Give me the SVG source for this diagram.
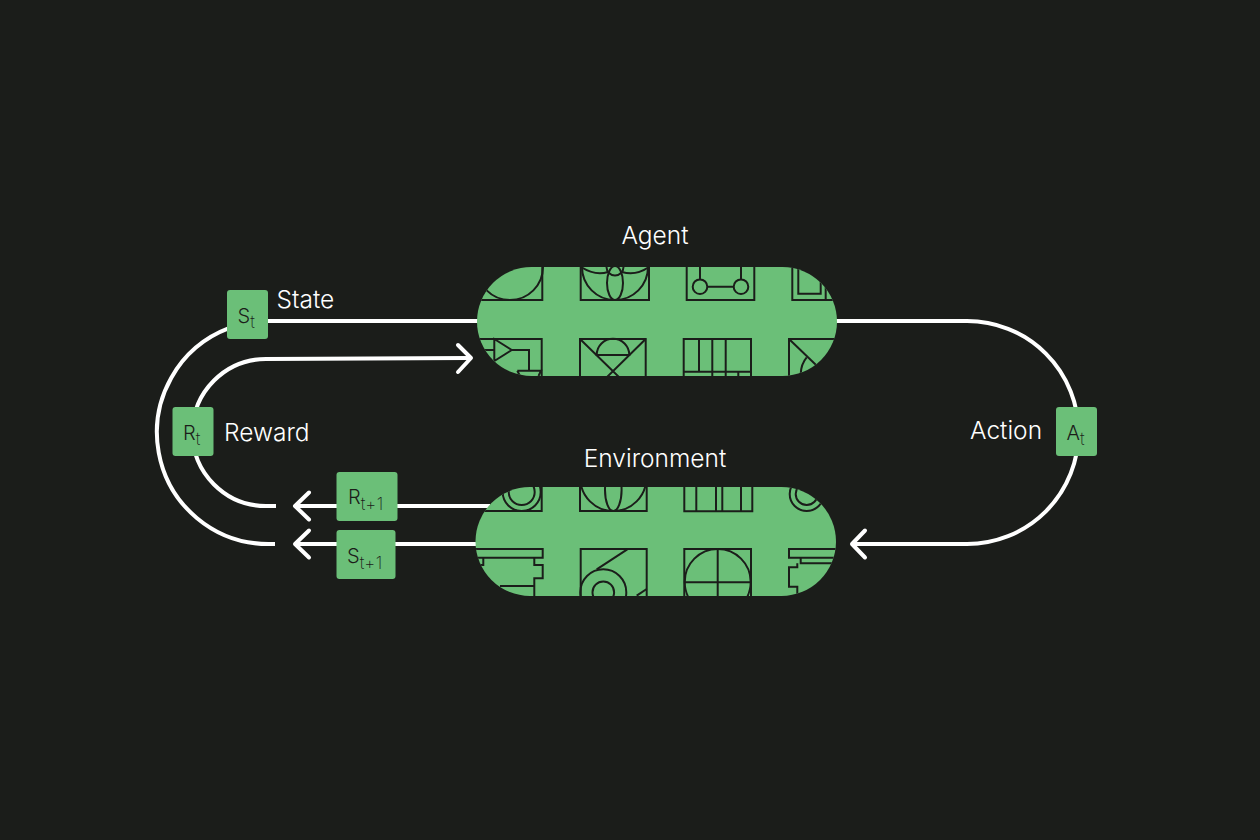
<svg xmlns="http://www.w3.org/2000/svg" width="1260" height="840" viewBox="0 0 1260 840">
<style>
.lbl{font-family:Inter,"Liberation Sans",sans-serif;font-size:24.500px;font-weight:300;fill:#fff}
.tag{font-family:Inter,"Liberation Sans",sans-serif;font-size:20px;font-weight:300;fill:#1b1d1a}
.sub{font-size:17px;font-weight:200;letter-spacing:.4px}
.pill{fill:#6bbf78}
.box{fill:#6bbf78}
.wire{fill:none;stroke:#fff;stroke-width:4;stroke-linecap:butt}
.head{fill:none;stroke:#fff;stroke-width:4;stroke-linecap:round;stroke-linejoin:round}
.art{fill:none;stroke:#1b1d1a;stroke-width:2}
</style>
<defs>
<clipPath id="ca"><rect x="477" y="267" width="360" height="109" rx="54.5"/></clipPath>
<clipPath id="ce"><rect x="475.500" y="487" width="360.500" height="109" rx="54.500"/></clipPath>
</defs>
<rect width="1260" height="840" fill="#1b1d1a"/>
<g id="connectors">
<path class="wire" d="M268 321H480"/>
<path class="wire" d="M835 321H967A111.500 111.500 0 0 1 967 544H854"/>
<path class="head" d="M865 530.500L852 544L865 557.500"/>
<path class="wire" d="M229 328.200A111.500 111.500 0 0 0 268.500 544H275"/>
<path class="wire" d="M276 506H266A73.500 73.500 0 0 1 266 359L469 358"/>
<path class="head" d="M458 345L471 358L458 372"/>
<path class="wire" d="M296 506H490"/>
<path class="head" d="M309 492.500L295 506L309 519.500"/>
<path class="wire" d="M296 544H478"/>
<path class="head" d="M309 530.500L295 544L309 557.500"/>
</g>
<g id="agent">
<rect class="pill" x="477" y="267" width="360" height="109" rx="54.500"/>
<g class="art" clip-path="url(#ca)">
<path d="M470 300H542.300V260"/>
<circle cx="510" cy="267" r="33"/>
<path d="M580.700 260V300H649V260"/>
<circle cx="615" cy="267" r="33"/>
<ellipse cx="615" cy="283" rx="8" ry="17"/>
<circle cx="615" cy="267" r="8.500"/>
<path d="M581 267Q595 276 608 272M622 272Q636 276 649 267"/>
<path d="M686.700 260V300H754.300V260"/>
<circle cx="700" cy="286.700" r="7.300"/><circle cx="741" cy="286.700" r="7.300"/>
<path d="M700 260V279.400M741 260V279.400M707.300 286.700H733.700"/>
<path d="M792.300 260V300H840"/>
<path d="M798.300 260V293.700H820.700V260"/>
<path d="M825.700 260V300"/>
<path d="M470 339H541.700V380"/>
<path d="M494.300 339L511.700 350L494.300 361ZM470 350H494.300M511.700 350H529V370.700"/>
<path d="M517.300 370.700H541L538.500 376M517.300 370.700L520 376"/>
<path d="M580 380V339H645.700V380"/>
<path d="M580 339L622 380M645.700 339L604 380"/>
<path d="M596.700 355H629.300A16.300 16.300 0 0 0 596.700 355Z"/>
<path d="M683.700 380V339H751V380"/>
<path d="M699 339V371.700M712.300 339V380M725.700 339V380M683.700 371.700H751M738.300 371.700V380"/>
<path d="M789 380V339H840"/>
<path d="M789 339L840 388"/>
<path d="M806.700 357.300Q801 364 800.700 374"/>
</g>
</g>
<g id="environment">
<rect class="pill" x="475.500" y="487" width="360.500" height="109" rx="54.500"/>
<g class="art" clip-path="url(#ce)">
<path d="M470 511H541.700V480"/>
<circle cx="521.700" cy="492" r="13"/><circle cx="521.700" cy="492" r="19"/>
<path d="M580 480V511H646.700V480"/>
<circle cx="613.300" cy="478" r="33"/>
<ellipse cx="613.300" cy="490" rx="8.300" ry="21"/>
<path d="M684.300 480V511.300H752.300V480M696.300 480V511.300M716 480V511.300M722.300 480V511.300M741 480V511.300"/>
<circle cx="806.700" cy="494" r="11"/><circle cx="806.700" cy="494" r="17"/>
<path d="M470 549H542.700V557.700H470"/>
<path d="M534.300 557.700V565H542.700V578.300H534.300V600M500 586H534.300"/>
<path d="M477.300 557.700V565M483.300 557.700V565H479"/>
<path d="M580.700 600V549H646.700V600"/>
<path d="M627.300 549.300L596.700 569.300"/>
<circle cx="603.300" cy="592.300" r="23"/><circle cx="603.300" cy="592.300" r="10.800"/>
<path d="M636.700 595.700L646.700 589"/>
<path d="M684.300 600V549H751V600"/>
<circle cx="717.700" cy="582" r="33"/>
<path d="M717.700 549V600M684.300 582.300H751"/>
<path d="M840 549H789V557.700H840"/>
<path d="M800.700 557.700V563.300H840"/>
<path d="M797.300 563.300V567.300H789V586.700H797.300V600"/>
</g>
</g>
<text class="lbl" x="655" y="244" text-anchor="middle">Agent</text>
<text class="lbl" x="655" y="467" text-anchor="middle">Environment</text>
<text class="lbl" x="276.500" y="308">State</text>
<text class="lbl" x="224" y="441">Reward</text>
<text class="lbl" x="970" y="439">Action</text>
<g id="s-t"><rect class="box" x="227" y="290" width="41" height="49" rx="3"/><text class="tag" x="237.500" y="323">S<tspan class="sub" dy="5">t</tspan></text></g>
<g id="r-t"><rect class="box" x="172.500" y="407" width="41" height="49" rx="3"/><text class="tag" x="183" y="440">R<tspan class="sub" dy="5">t</tspan></text></g>
<g id="a-t"><rect class="box" x="1056" y="407" width="41" height="49" rx="3"/><text class="tag" x="1066.500" y="440">A<tspan class="sub" dy="5">t</tspan></text></g>
<g id="r-t1"><rect class="box" x="336.500" y="472" width="61" height="49" rx="3"/><text class="tag" x="348" y="504">R<tspan class="sub" dy="6">t+1</tspan></text></g>
<g id="s-t1"><rect class="box" x="336.500" y="530" width="59" height="49" rx="3"/><text class="tag" x="347" y="563">S<tspan class="sub" dy="6">t+1</tspan></text></g>
</svg>
